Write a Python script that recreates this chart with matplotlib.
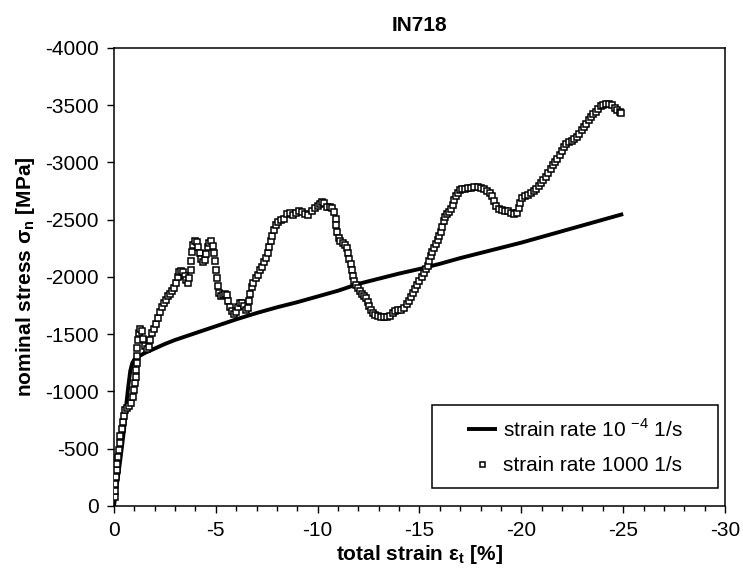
import matplotlib
matplotlib.use("Agg")
import matplotlib.pyplot as plt
from matplotlib.patches import Rectangle
from matplotlib.ticker import MultipleLocator

plt.rcParams['font.family'] = ['Liberation Sans', 'DejaVu Sans']
plt.rcParams['axes.unicode_minus'] = False
plt.rcParams['mathtext.fontset'] = 'custom'
plt.rcParams['mathtext.rm'] = 'Liberation Sans'
plt.rcParams['mathtext.bf'] = 'Liberation Sans:bold'

title = "IN718"
xlabel = r"total strain ε$_\mathbf{t}$ [%]"
ylabel = r"nominal stress σ$_\mathbf{n}$ [MPa]"
label_slow = r"strain rate 10 $^{\mathregular{-4}}$ 1/s"
label_fast = "strain rate 1000 1/s"

x_ticks = [0, -5, -10, -15, -20, -25, -30]
y_ticks = [0, -500, -1000, -1500, -2000, -2500, -3000, -3500, -4000]

# quasi-static curve (strain rate 1e-4 1/s)
strain_slow = [0, -0.1, -0.2, -0.3, -0.4, -0.5, -0.6, -0.7, -0.8, -0.9, -1.0, -1.2, -1.5,
               -2.0, -2.5, -3.0, -4.0, -5.0, -6.0, -7.0, -8.0, -9.0, -10.0, -11.0, -12.0,
               -13.0, -14.0, -15.0, -16.0, -17.0, -18.0, -19.0, -20.0, -21.0, -22.0, -23.0,
               -24.0, -25.0]
stress_slow = [0, -130, -260, -390, -530, -680, -880, -1040, -1180, -1250, -1280, -1305, -1335,
               -1375, -1415, -1450, -1510, -1570, -1630, -1685, -1735, -1780, -1830, -1880, -1940,
               -1985, -2030, -2070, -2115, -2165, -2210, -2255, -2300, -2350, -2400, -2450,
               -2500, -2550]

# dynamic curve (strain rate 1000 1/s)
strain_fast = [
    -0.03, -0.05, -0.07, -0.1, -0.13, -0.16, -0.2, -0.24, -0.28, -0.32, -0.37, -0.42, -0.48, -0.55,
    -0.64, -0.74, -0.85, -0.95, -1.0, -1.04, -1.07, -1.1, -1.11, -1.12, -1.14, -1.17, -1.21, -1.28,
    -1.36, -1.43, -1.5, -1.6, -1.7, -1.77, -1.85, -1.95, -2.05, -2.15, -2.25, -2.35, -2.45, -2.55,
    -2.65, -2.75, -2.85, -2.95, -3.05, -3.12, -3.2, -3.3, -3.4, -3.48, -3.55, -3.63, -3.7, -3.76,
    -3.8, -3.85, -3.9, -3.98, -4.06, -4.13, -4.2, -4.28, -4.36, -4.45, -4.53, -4.6, -4.68, -4.76,
    -4.84, -4.9, -4.95, -5.0, -5.05, -5.1, -5.16, -5.25, -5.35, -5.45, -5.55, -5.62, -5.7, -5.8,
    -5.9, -6.0, -6.1, -6.2, -6.3, -6.4, -6.48, -6.56, -6.63, -6.7, -6.77, -6.85, -6.95, -7.05,
    -7.15, -7.25, -7.35, -7.45, -7.55, -7.63, -7.7, -7.77, -7.85, -7.95, -8.05, -8.2, -8.35, -8.5,
    -8.65, -8.8, -8.95, -9.1, -9.25, -9.4, -9.55, -9.7, -9.85, -10.0, -10.1, -10.2, -10.32, -10.45,
    -10.6, -10.72, -10.82, -10.88, -10.92, -10.96, -11.03, -11.12, -11.22, -11.32, -11.42, -11.5,
    -11.56, -11.62, -11.68, -11.74, -11.8, -11.88, -11.97, -12.07, -12.17, -12.27, -12.37, -12.45,
    -12.52, -12.6, -12.7, -12.82, -12.95, -13.1, -13.25, -13.4, -13.55, -13.68, -13.8, -13.95,
    -14.1, -14.25, -14.38, -14.5, -14.6, -14.7, -14.8, -14.9, -15.0, -15.1, -15.2, -15.3, -15.4,
    -15.48, -15.55, -15.62, -15.7, -15.8, -15.9, -15.98, -16.05, -16.12, -16.18, -16.25, -16.35,
    -16.45, -16.55, -16.63, -16.7, -16.78, -16.88, -16.98, -17.1, -17.25, -17.4, -17.55, -17.7,
    -17.85, -18.0, -18.15, -18.3, -18.45, -18.58, -18.68, -18.78, -18.9, -19.05, -19.2, -19.35,
    -19.5, -19.65, -19.77, -19.87, -19.95, -20.05, -20.18, -20.32, -20.46, -20.6, -20.73, -20.85,
    -20.97, -21.08, -21.2, -21.32, -21.44, -21.55, -21.66, -21.77, -21.88, -21.98, -22.08, -22.2,
    -22.33, -22.47, -22.6, -22.73, -22.85, -22.96, -23.07, -23.18, -23.3, -23.42, -23.54, -23.66,
    -23.78, -23.9, -24.02, -24.15, -24.3, -24.45, -24.58, -24.7, -24.82, -24.9]
stress_fast = [
    -80, -130, -190, -250, -310, -370, -430, -490, -550, -610, -670, -730, -790, -840,
    -860, -870, -900, -950, -1010, -1070, -1130, -1190, -1250, -1310, -1380, -1450, -1510, -1545,
    -1530, -1460, -1400, -1375, -1390, -1450, -1510, -1550, -1590, -1645, -1690, -1735, -1770, -1800,
    -1830, -1855, -1880, -1905, -1950, -2000, -2040, -2055, -2045, -2005, -1970, -1945, -1990, -2060,
    -2140, -2220, -2280, -2310, -2305, -2260, -2210, -2160, -2130, -2150, -2200, -2260, -2300, -2310,
    -2270, -2210, -2140, -2060, -1990, -1920, -1860, -1835, -1840, -1850, -1840, -1790, -1740, -1700,
    -1680, -1695, -1740, -1770, -1775, -1750, -1715, -1730, -1790, -1850, -1910, -1950, -1990, -2020,
    -2060, -2090, -2130, -2170, -2210, -2260, -2310, -2360, -2410, -2450, -2480, -2495, -2510, -2550,
    -2560, -2545, -2555, -2575, -2570, -2550, -2545, -2575, -2605, -2620, -2640, -2655, -2645, -2615,
    -2610, -2600, -2565, -2510, -2450, -2390, -2340, -2310, -2295, -2275, -2250, -2210,
    -2160, -2110, -2060, -2010, -1965, -1930, -1905, -1880, -1855, -1835, -1815, -1785,
    -1745, -1710, -1685, -1665, -1655, -1650, -1650, -1652, -1660, -1685, -1705, -1710,
    -1715, -1730, -1760, -1790, -1825, -1860, -1895, -1930, -1965, -2000, -2035, -2070, -2100,
    -2140, -2180, -2220, -2255, -2285, -2320, -2355, -2395, -2440, -2485, -2525, -2550,
    -2570, -2595, -2630, -2670, -2705, -2735, -2760, -2770, -2772, -2775, -2780, -2788,
    -2790, -2780, -2772, -2755, -2735, -2705, -2660, -2620, -2595, -2582, -2578, -2572,
    -2562, -2552, -2560, -2600, -2650, -2690, -2705, -2715, -2730, -2750, -2770, -2795,
    -2820, -2845, -2870, -2905, -2945, -2980, -3005, -3030, -3065, -3100, -3135, -3165,
    -3180, -3190, -3205, -3225, -3250, -3280, -3310, -3340, -3370, -3395, -3420, -3445,
    -3470, -3490, -3505, -3515, -3515, -3505, -3480, -3455, -3440, -3435]

fig = plt.figure(figsize=(7.43, 5.74), dpi=100)
ax = fig.add_axes([0.1534, 0.1185, 0.8224, 0.7979])

ax.plot(strain_slow, stress_slow, color='black', lw=2.8, solid_capstyle='butt',
        label=label_slow, zorder=2)
ax.plot(strain_fast, stress_fast, linestyle='none', marker='s', markersize=4.0,
        markerfacecolor='white', markeredgecolor='black', markeredgewidth=1.1,
        label=label_fast, zorder=3)

ax.set_xlim(0, -30)
ax.set_ylim(0, -4000)
ax.set_xticks(x_ticks)
ax.set_xticklabels([f"{t:g}" for t in x_ticks])
ax.set_yticks(y_ticks)
ax.set_yticklabels([f"{t:g}" for t in y_ticks])
ax.xaxis.set_minor_locator(MultipleLocator(1))
ax.tick_params(axis='both', which='major', direction='out', length=5, width=1,
               labelsize=15, pad=6, color='black')
ax.tick_params(axis='x', which='minor', direction='out', length=3.5, width=1)
for sp in ax.spines.values():
    sp.set_linewidth(1.1)
    sp.set_color('black')

ax.set_xlabel(xlabel, fontsize=15, fontweight='bold', labelpad=2)
ax.set_ylabel(ylabel, fontsize=15, fontweight='bold', labelpad=6)
ax.set_title(title, fontsize=15, fontweight='bold', pad=12)

ax.add_patch(Rectangle((0.5205, 0.0393), 0.468, 0.181, transform=ax.transAxes,
                       fill=False, edgecolor='black', lw=1.1, zorder=5))
leg = ax.legend(loc='center', bbox_to_anchor=(0.7545, 0.1298), frameon=False,
                fontsize=15, handlelength=1.45, handletextpad=0.3, labelspacing=0.75,
                numpoints=1, markerscale=0.9)

fig.savefig("out.png", dpi=100)
